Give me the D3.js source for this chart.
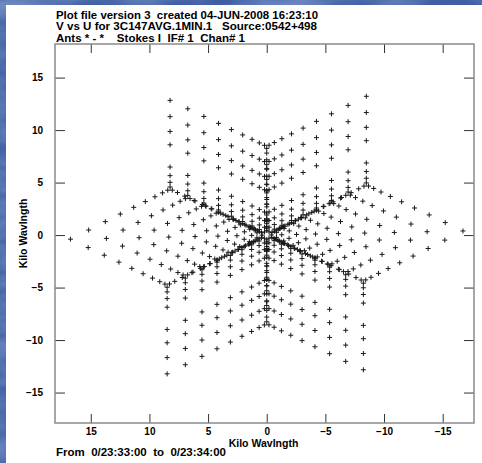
<!DOCTYPE html>
<html>
<head>
<meta charset="utf-8">
<script src="https://cdn.jsdelivr.net/npm/d3@7"></script>
<style>
  html, body { margin: 0; padding: 0; background: #4464a8; }
  svg { display: block; }
  text { font-family: "Liberation Sans", Arial, sans-serif; font-weight: bold; fill: #000; white-space: pre; }
</style>
</head>
<body>
<svg id="svg1" width="482" height="463"></svg>
<script>
// tick labels
var xTicks = [15, 10, 5, 0, -5, -10, -15];
var yTicks = [15, 10, 5, 0, -5, -10, -15];

var titleLines = [
  "Plot file version 3  created 04-JUN-2008 16:23:10",
  "V vs U for 3C147AVG.1MIN.1   Source:0542+498",
  "Ants * - *    Stokes I  IF# 1  Chan# 1"
];
var titleWidths = [262, 261, 189];
var footer = "From  0/23:33:00  to  0/23:34:00";
var axisTitle = "Kilo Wavlngth";

// points along u = 0 (v values)
var vLine = [8.26, 7.81, 7.17, 6.35, 4.23, 2.96, 1.55, 6.71, 6.26, 5.62, 4.80, 2.69, 1.41, 5.30, 4.85, 4.21, 3.39, 1.28,
  4.02, 3.57, 2.93, 2.11, 1.91, 1.46, 0.82, 1.09, 0.64, 0.45,
  -8.26, -7.81, -7.17, -6.35, -4.23, -2.96, -1.55, -6.71, -6.26, -5.62, -4.80, -2.69, -1.41, -5.30, -4.85, -4.21, -3.39, -1.28,
  -4.02, -3.57, -2.93, -2.11, -1.91, -1.46, -0.82, -1.09, -0.64, -0.45];

// dense line upper-left / lower-right [u, v]
var lineA = [[8.05,4.28],[7.61,4.05],[6.99,3.71],[6.19,3.29],[5.23,2.78],[4.13,2.19],[2.88,1.53],[1.51,0.80],
  [6.54,3.48],[6.11,3.25],[5.48,2.91],[4.68,2.49],[3.72,1.98],[2.62,1.39],[1.38,0.73],
  [5.17,2.75],[4.73,2.51],[4.10,2.18],[3.30,1.76],[2.35,1.25],[1.24,0.66],
  [3.92,2.08],[3.49,1.85],[2.86,1.52],[2.06,1.10],[1.10,0.59],
  [2.82,1.50],[2.38,1.27],[1.76,0.93],[0.96,0.51],[1.86,0.99],[1.43,0.76],[0.80,0.42],[1.06,0.57],[0.63,0.33],[0.44,0.23],
  [-8.05,-4.28],[-7.61,-4.05],[-6.99,-3.71],[-6.19,-3.29],[-5.23,-2.78],[-4.13,-2.19],[-2.88,-1.53],[-1.51,-0.80],
  [-6.54,-3.48],[-6.11,-3.25],[-5.48,-2.91],[-4.68,-2.49],[-3.72,-1.98],[-2.62,-1.39],[-1.38,-0.73],
  [-5.17,-2.75],[-4.73,-2.51],[-4.10,-2.18],[-3.30,-1.76],[-2.35,-1.25],[-1.24,-0.66],
  [-3.92,-2.08],[-3.49,-1.85],[-2.86,-1.52],[-2.06,-1.10],[-1.10,-0.59],
  [-2.82,-1.50],[-2.38,-1.27],[-1.76,-0.93],[-0.96,-0.51],[-1.86,-0.99],[-1.43,-0.76],[-0.80,-0.42],[-1.06,-0.57],[-0.63,-0.33],[-0.44,-0.23]];

// dense line upper-right / lower-left [u, v]
var lineB = [[-8.29,4.66],[-7.84,4.41],[-7.20,4.04],[-6.38,3.58],[-5.39,3.03],[-4.25,2.39],[-2.97,1.67],[-1.55,0.87],
  [-6.74,3.79],[-6.29,3.53],[-5.65,3.17],[-4.82,2.71],[-3.84,2.16],[-2.70,1.52],[-1.42,0.80],
  [-5.32,2.99],[-4.87,2.74],[-4.23,2.38],[-3.40,1.91],[-2.42,1.36],[-1.28,0.72],
  [-4.04,2.27],[-3.59,2.02],[-2.95,1.66],[-2.12,1.19],[-1.14,0.64],
  [-2.90,1.63],[-2.45,1.38],[-1.81,1.02],[-0.98,0.55],[-1.92,1.08],[-1.47,0.83],[-0.82,0.46],[-1.10,0.62],[-0.65,0.36],[-0.45,0.25],
  [8.29,-4.66],[7.84,-4.41],[7.20,-4.04],[6.38,-3.58],[5.39,-3.03],[4.25,-2.39],[2.97,-1.67],[1.55,-0.87],
  [6.74,-3.79],[6.29,-3.53],[5.65,-3.17],[4.82,-2.71],[3.84,-2.16],[2.70,-1.52],[1.42,-0.80],
  [5.32,-2.99],[4.87,-2.74],[4.23,-2.38],[3.40,-1.91],[2.42,-1.36],[1.28,-0.72],
  [4.04,-2.27],[3.59,-2.02],[2.95,-1.66],[2.12,-1.19],[1.14,-0.64],
  [2.90,-1.63],[2.45,-1.38],[1.81,-1.02],[0.98,-0.55],[1.92,-1.08],[1.47,-0.83],[0.82,-0.46],[1.10,-0.62],[0.65,-0.36],[0.45,-0.25]];

// vertical columns: [u, [v...]]
var upperLeftCols = [
  [8.24, [4.58, 5.02, 5.66, 6.48, 8.60, 9.87, 11.28, 12.83]],
  [6.73, [3.78, 4.22, 4.86, 5.68, 7.80, 9.07, 10.48, 12.03]],
  [5.36, [3.05, 3.49, 4.13, 4.95, 7.07, 8.34, 9.75, 11.30]],
  [4.11, [2.39, 2.83, 3.47, 4.29, 6.41, 7.68, 9.09, 10.64]],
  [3.01, [1.80, 2.24, 2.88, 3.70, 5.82, 7.09, 8.50, 10.05]],
  [2.05, [1.29, 1.73, 2.37, 3.19, 5.31, 6.58, 7.99, 9.54]],
  [1.25, [0.87, 1.31, 1.95, 2.77, 4.89, 6.16, 7.57, 9.12]],
  [0.63, [0.53, 0.97, 1.61, 2.43, 4.55, 5.82, 7.23, 8.78]],
  [0.19, [0.30, 0.74, 1.38, 2.20, 4.32, 5.59, 7.00, 8.55]]
];
var lowerRightCols = [
  [-8.24, [-4.58, -5.02, -5.66, -6.48, -8.60, -9.87, -11.28, -12.83]],
  [-6.73, [-3.78, -4.22, -4.86, -5.68, -7.80, -9.07, -10.48, -12.03]],
  [-5.36, [-3.05, -3.49, -4.13, -4.95, -7.07, -8.34, -9.75, -11.30]],
  [-4.11, [-2.39, -2.83, -3.47, -4.29, -6.41, -7.68, -9.09, -10.64]],
  [-3.01, [-1.80, -2.24, -2.88, -3.70, -5.82, -7.09, -8.50, -10.05]],
  [-2.05, [-1.29, -1.73, -2.37, -3.19, -5.31, -6.58, -7.99, -9.54]],
  [-1.25, [-0.87, -1.31, -1.95, -2.77, -4.89, -6.16, -7.57, -9.12]],
  [-0.63, [-0.53, -0.97, -1.61, -2.43, -4.55, -5.82, -7.23, -8.78]],
  [-0.19, [-0.30, -0.74, -1.38, -2.20, -4.32, -5.59, -7.00, -8.55]]
];
var upperRightCols = [
  [-8.49, [4.97, 5.41, 6.05, 6.87, 8.99, 10.26, 11.67, 13.22]],
  [-6.94, [4.10, 4.54, 5.18, 6.00, 8.12, 9.39, 10.80, 12.35]],
  [-5.52, [3.30, 3.74, 4.38, 5.20, 7.32, 8.59, 10.00, 11.55]],
  [-4.24, [2.58, 3.02, 3.66, 4.48, 6.60, 7.87, 9.28, 10.83]],
  [-3.10, [1.94, 2.38, 3.02, 3.84, 5.96, 7.23, 8.64, 10.19]],
  [-2.11, [1.39, 1.83, 2.47, 3.29, 5.41, 6.68, 8.09, 9.64]],
  [-1.29, [0.93, 1.37, 2.01, 2.83, 4.95, 6.22, 7.63, 9.18]],
  [-0.65, [0.56, 1.00, 1.64, 2.46, 4.58, 5.85, 7.26, 8.81]],
  [-0.20, [0.31, 0.75, 1.39, 2.21, 4.33, 5.60, 7.01, 8.56]]
];
var lowerLeftCols = [
  [8.49, [-4.97, -5.41, -6.05, -6.87, -8.99, -10.26, -11.67, -13.22]],
  [6.94, [-4.10, -4.54, -5.18, -6.00, -8.12, -9.39, -10.80, -12.35]],
  [5.52, [-3.30, -3.74, -4.38, -5.20, -7.32, -8.59, -10.00, -11.55]],
  [4.24, [-2.58, -3.02, -3.66, -4.48, -6.60, -7.87, -9.28, -10.83]],
  [3.10, [-1.94, -2.38, -3.02, -3.84, -5.96, -7.23, -8.64, -10.19]],
  [2.11, [-1.39, -1.83, -2.47, -3.29, -5.41, -6.68, -8.09, -9.64]],
  [1.29, [-0.93, -1.37, -2.01, -2.83, -4.95, -6.22, -7.63, -9.18]],
  [0.65, [-0.56, -1.00, -1.64, -2.46, -4.58, -5.85, -7.26, -8.81]],
  [0.20, [-0.31, -0.75, -1.39, -2.21, -4.33, -5.60, -7.01, -8.56]]
];

// left and right wedges [u, v]
var leftWedge = [
  [8.44,4.27],[8.89,4.02],[9.53,3.65],[10.35,3.19],[11.34,2.64],[12.48,2.00],[13.76,1.28],[15.18,0.48],[16.73,-0.39],
  [6.93,3.47],[7.38,3.22],[8.02,2.85],[8.84,2.39],[9.83,1.84],[10.97,1.20],[12.25,0.48],[13.67,-0.32],[15.22,-1.19],
  [5.56,2.74],[6.01,2.49],[6.65,2.12],[7.47,1.66],[8.46,1.11],[9.60,0.47],[10.88,-0.25],[12.30,-1.05],[13.85,-1.92],
  [4.31,2.08],[4.76,1.83],[5.40,1.46],[6.22,1.00],[7.21,0.45],[8.35,-0.19],[9.63,-0.91],[11.05,-1.71],[12.60,-2.58],
  [3.21,1.49],[3.66,1.24],[4.30,0.87],[5.12,0.41],[6.11,-0.14],[7.25,-0.78],[8.53,-1.50],[9.95,-2.30],[11.50,-3.17],
  [2.25,0.98],[2.70,0.73],[3.34,0.36],[4.16,-0.10],[5.15,-0.65],[6.29,-1.29],[7.57,-2.01],[8.99,-2.81],[10.54,-3.68],
  [1.45,0.56],[1.90,0.31],[2.54,-0.06],[3.36,-0.52],[4.35,-1.07],[5.49,-1.71],[6.77,-2.43],[8.19,-3.23],[9.74,-4.10],
  [0.83,0.22],[1.28,-0.03],[1.92,-0.40],[2.74,-0.86],[3.73,-1.41],[4.87,-2.05],[6.15,-2.77],[7.57,-3.57],[9.12,-4.44],
  [0.39,-0.01],[0.84,-0.26],[1.48,-0.63],[2.30,-1.09],[3.29,-1.64],[4.43,-2.28],[5.71,-3.00],[7.13,-3.80],[8.68,-4.67]
];
var rightWedge = [
  [-8.44,-4.27],[-8.89,-4.02],[-9.53,-3.65],[-10.35,-3.19],[-11.34,-2.64],[-12.48,-2.00],[-13.76,-1.28],[-15.18,-0.48],[-16.73,0.39],
  [-6.93,-3.47],[-7.38,-3.22],[-8.02,-2.85],[-8.84,-2.39],[-9.83,-1.84],[-10.97,-1.20],[-12.25,-0.48],[-13.67,0.32],[-15.22,1.19],
  [-5.56,-2.74],[-6.01,-2.49],[-6.65,-2.12],[-7.47,-1.66],[-8.46,-1.11],[-9.60,-0.47],[-10.88,0.25],[-12.30,1.05],[-13.85,1.92],
  [-4.31,-2.08],[-4.76,-1.83],[-5.40,-1.46],[-6.22,-1.00],[-7.21,-0.45],[-8.35,0.19],[-9.63,0.91],[-11.05,1.71],[-12.60,2.58],
  [-3.21,-1.49],[-3.66,-1.24],[-4.30,-0.87],[-5.12,-0.41],[-6.11,0.14],[-7.25,0.78],[-8.53,1.50],[-9.95,2.30],[-11.50,3.17],
  [-2.25,-0.98],[-2.70,-0.73],[-3.34,-0.36],[-4.16,0.10],[-5.15,0.65],[-6.29,1.29],[-7.57,2.01],[-8.99,2.81],[-10.54,3.68],
  [-1.45,-0.56],[-1.90,-0.31],[-2.54,0.06],[-3.36,0.52],[-4.35,1.07],[-5.49,1.71],[-6.77,2.43],[-8.19,3.23],[-9.74,4.10],
  [-0.83,-0.22],[-1.28,0.03],[-1.92,0.40],[-2.74,0.86],[-3.73,1.41],[-4.87,2.05],[-6.15,2.77],[-7.57,3.57],[-9.12,4.44],
  [-0.39,0.01],[-0.84,0.26],[-1.48,0.63],[-2.30,1.09],[-3.29,1.64],[-4.43,2.28],[-5.71,3.00],[-7.13,3.80],[-8.68,4.67]
];

var svg = d3.select("#svg1"),
  width = +svg.attr("width"),
  height = +svg.attr("height"),
  plot = {left: 55, right: 474, top: 44, bottom: 423};

// blue slide background
var defs = svg.append("defs");
var f = defs.append("filter").attr("id", "mottle").attr("x", 0).attr("y", 0).attr("width", "100%").attr("height", "100%");
f.append("feTurbulence").attr("type", "fractalNoise").attr("baseFrequency", "0.012 0.05").attr("numOctaves", 3).attr("seed", 4);
f.append("feColorMatrix").attr("values", "0 0 0 0 0.40  0 0 0 0 0.52  0 0 0 0 0.80  0.9 0 0 0 -0.25");
svg.append("rect").attr("width", width).attr("height", height).attr("fill", "#3f5ea3");
svg.append("rect").attr("width", width).attr("height", height).attr("filter", "url(#mottle)");

svg.append("rect")
  .attr("x", 6).attr("y", 5)
  .attr("width", width - 6).attr("height", height - 5)
  .attr("fill", "#fff");

var x = d3.scaleLinear().domain([18.05, -17.67]).range([plot.left, plot.right]);
var y = d3.scaleLinear().domain([-17.9, 18.2]).range([plot.bottom, plot.top]);

// header
svg.append("g").selectAll("text")
  .data(titleLines)
  .enter().append("text")
  .attr("x", 56)
  .attr("y", function(d, i) { return 19 + i * 11.3; })
  .attr("font-size", 11)
  .attr("textLength", function(d, i) { return titleWidths[i]; })
  .attr("lengthAdjust", "spacingAndGlyphs")
  .text(function(d) { return d; });

// axes
function styleAxis(g) {
  g.select(".domain").remove();
  g.selectAll(".tick line").attr("stroke", "#333").attr("stroke-width", 1);
  g.selectAll(".tick text").attr("font-size", 10).attr("font-weight", "bold")
    .attr("font-family", "Liberation Sans, Arial, sans-serif").attr("fill", "#000");
}
svg.append("g")
  .attr("transform", "translate(0," + plot.bottom + ")")
  .call(d3.axisBottom(x).tickValues(xTicks).tickSize(-9).tickPadding(5))
  .call(styleAxis);
svg.append("g")
  .attr("transform", "translate(0," + plot.top + ")")
  .call(d3.axisTop(x).tickValues(xTicks).tickSize(-9).tickFormat(""))
  .call(styleAxis);
svg.append("g")
  .attr("transform", "translate(" + plot.left + ",0)")
  .call(d3.axisLeft(y).tickValues(yTicks).tickSize(-10).tickPadding(12))
  .call(styleAxis);
svg.append("g")
  .attr("transform", "translate(" + plot.right + ",0)")
  .call(d3.axisRight(y).tickValues(yTicks).tickSize(-10).tickFormat(""))
  .call(styleAxis);

svg.append("rect")
  .attr("x", plot.left).attr("y", plot.top)
  .attr("width", plot.right - plot.left).attr("height", plot.bottom - plot.top)
  .attr("fill", "none").attr("stroke", "#8a8a8a").attr("stroke-width", 1.5);

// axis titles
svg.append("text")
  .attr("x", (plot.left + plot.right) / 2 - 1)
  .attr("y", 447)
  .attr("text-anchor", "middle")
  .attr("font-size", 10.5)
  .text(axisTitle);
svg.append("text")
  .attr("transform", "translate(27," + ((plot.top + plot.bottom) / 2) + ") rotate(-90)")
  .attr("text-anchor", "middle")
  .attr("font-size", 10.5)
  .text(axisTitle);
svg.append("text")
  .attr("x", 56)
  .attr("y", 456)
  .attr("font-size", 10.5)
  .attr("textLength", 170)
  .attr("lengthAdjust", "spacingAndGlyphs")
  .text(footer);

// collect points
var pts = [];
vLine.forEach(function(v) { pts.push([0, v]); });
lineA.forEach(function(p) { pts.push(p); });
lineB.forEach(function(p) { pts.push(p); });
[upperLeftCols, lowerRightCols, upperRightCols, lowerLeftCols].forEach(function(cols) {
  cols.forEach(function(c) {
    c[1].forEach(function(v) { pts.push([c[0], v]); });
  });
});
leftWedge.forEach(function(p) { pts.push(p); });
rightWedge.forEach(function(p) { pts.push(p); });

svg.append("g")
  .selectAll("path")
  .data(pts)
  .enter().append("path")
  .attr("transform", function(d) { return "translate(" + x(d[0]) + "," + y(d[1]) + ")"; })
  .attr("d", "M-2.5,0H2.5M0,-2.5V2.5")
  .attr("stroke", "#1a1a1a")
  .attr("stroke-width", 1)
  .attr("fill", "none");
</script>
</body>
</html>
